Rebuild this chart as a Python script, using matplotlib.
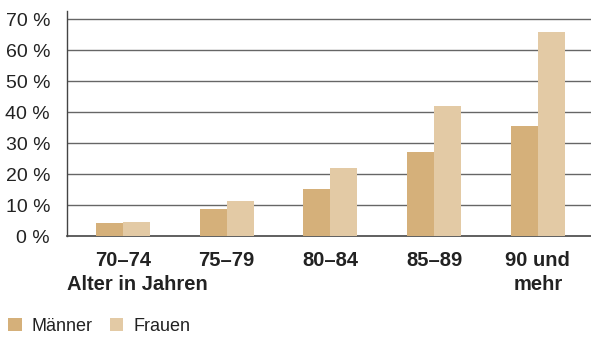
import numpy as np
import matplotlib.pyplot as plt

plt.rcParams['font.family'] = ['Liberation Sans', 'DejaVu Sans']

altersgruppen = ["70–74", "75–79", "80–84", "85–89", "90 und\nmehr"]
maenner = [4.3, 8.7, 15.2, 27.1, 35.5]
frauen = [4.6, 11.3, 21.9, 41.9, 65.8]
y_ticks = [0, 10, 20, 30, 40, 50, 60, 70]

farbe_m = "#D5B07A"
farbe_f = "#E3CAA5"

fig = plt.figure(figsize=(5.91, 3.37), dpi=100)
ax = fig.add_axes([0.1129, 0.2997, 0.8871, 0.6673])

x = np.arange(len(altersgruppen))
b = 0.26
bm = ax.bar(x - b / 2, maenner, width=b, color=farbe_m, label="Männer", zorder=3)
bf = ax.bar(x + b / 2, frauen, width=b, color=farbe_f, label="Frauen", zorder=3)

ax.set_xlim(-0.543, 4.513)
ax.set_ylim(0, 72.6)

ax.set_yticks(y_ticks)
ax.set_yticklabels([f"{v} %" for v in y_ticks], fontsize=14, color="#222222")
for v in y_ticks[1:]:
    ax.axhline(v, color="#666666", lw=1.0, zorder=1)

ax.set_xticks(x)
ax.set_xticklabels(altersgruppen, fontsize=14.5, fontweight="bold", color="#222222",
                   linespacing=1.3, va="top")
ax.tick_params(axis="both", length=0)
ax.tick_params(axis="y", pad=12)
ax.tick_params(axis="x", pad=11)

for s in ["top", "right"]:
    ax.spines[s].set_visible(False)
ax.spines["left"].set_color("#444444")
ax.spines["bottom"].set_color("#444444")
ax.spines["left"].set_linewidth(1.0)
ax.spines["bottom"].set_linewidth(1.2)

fig.text(67 / 591, 1 - 284 / 337, "Alter in Jahren", fontsize=14.5, fontweight="bold",
         color="#222222", ha="left", va="center")

fig.legend(handles=[bm, bf], loc="lower left", bbox_to_anchor=(8 / 591, 2 / 337), ncol=2,
           frameon=False, fontsize=13, handlelength=0.75, handleheight=0.75,
           handletextpad=0.55, columnspacing=0.95, borderpad=0, borderaxespad=0,
           labelcolor="#222222")

fig.savefig("out.png", dpi=100)
